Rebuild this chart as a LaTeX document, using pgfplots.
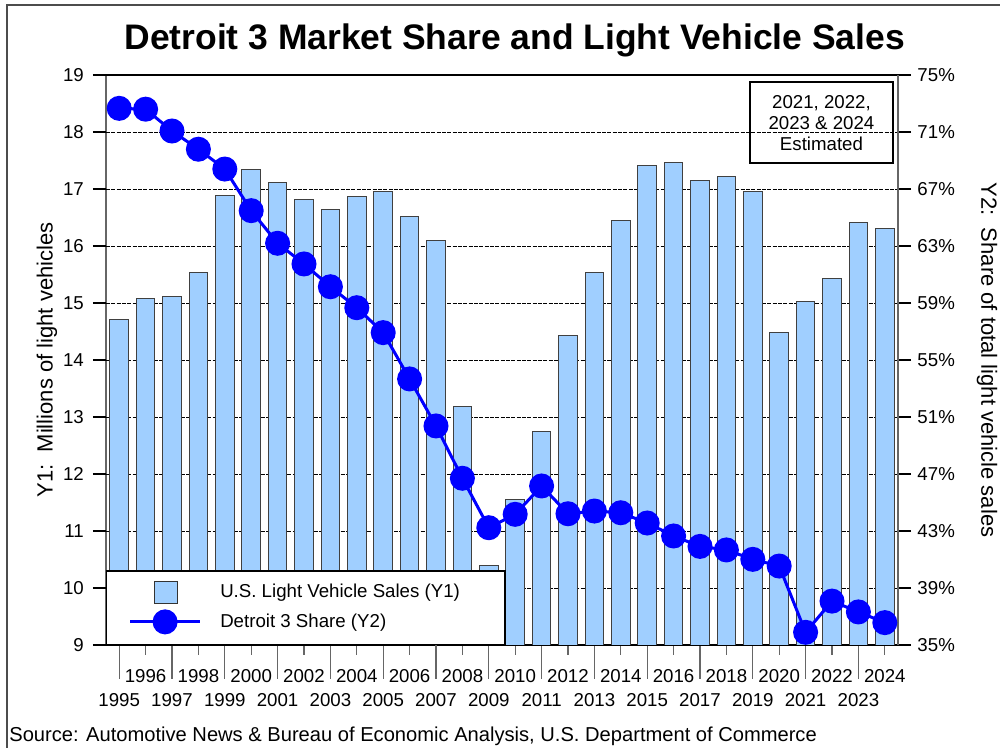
\documentclass[border=0pt]{standalone}
\usepackage{fontspec}
\setmainfont{Liberation Sans}
\usepackage{pgfplots}
\pgfplotsset{compat=1.18}
\definecolor{barblue}{RGB}{160,207,255}
\begin{document}
\fontsize{14}{16}\selectfont
\begin{tikzpicture}[font=\fontsize{14}{16}\selectfont]
\useasboundingbox (0,0) rectangle (750pt,561pt);
\draw[line width=1.5pt, black!70] (5.6pt,0) -- (5.6pt,557.25pt) -- (750pt,557.25pt);
\node[anchor=base, font=\fontsize{26.6}{30}\selectfont\bfseries] at (386pt,523.5pt) {Detroit 3 Market Share and Light Vehicle Sales};
\node[anchor=base west, inner sep=0pt, font=\fontsize{15.1}{17}\selectfont] at (6.8pt,4.9pt) {Source: Automotive News \& Bureau of Economic Analysis, U.S. Department of Commerce};
\begin{axis}[
  at={(79.5pt,77.25pt)}, anchor=south west, scale only axis,
  width=594pt, height=427.5pt,
  xmin=1994.5, xmax=2024.5, ymin=9, ymax=19,
  ytick=\empty,
  extra y ticks={9,10,...,19},
  extra y tick style={major tick length=9.75pt, grid=major, tick style={black, line width=0.8pt}, yticklabel style={xshift=-2pt}},
  xtick={1996,1998,...,2024},
  extra x ticks={1995,1997,...,2023},
  extra x tick style={major tick length=25.5pt, xticklabel style={yshift=0.5pt}},
  xticklabel style={/pgf/number format/1000 sep={}, yshift=-6.25pt},
  /pgf/number format/assume math mode=true,
  tick pos=left, tick align=outside,
  major tick length=7.5pt,
  x tick style={black!60, line width=0.8pt},
  separate axis lines,
  x axis line style={black, line width=0.9pt},
  y axis line style={black!60, line width=0.9pt},
  major grid style={black, line width=0.6pt, dash pattern=on 3pt off 1pt},
  ylabel={Y1:\ \ Millions of light vehicles},
  ylabel style={at={(axis description cs:-0.0745,0.5)}, anchor=center, font=\fontsize{16.5}{18}\selectfont},
]
\addplot[ybar, bar width=13.9pt, fill=barblue, draw=black!75, line width=0.7pt] coordinates {
(1995,14.71) (1996,15.08) (1997,15.12) (1998,15.53) (1999,16.88) (2000,17.35)
(2001,17.12) (2002,16.82) (2003,16.64) (2004,16.87) (2005,16.95) (2006,16.51)
(2007,16.10) (2008,13.18) (2009,10.39) (2010,11.56) (2011,12.74) (2012,14.43)
(2013,15.53) (2014,16.45) (2015,17.42) (2016,17.47) (2017,17.15) (2018,17.22)
(2019,16.96) (2020,14.48) (2021,15.03) (2022,15.43) (2023,16.42) (2024,16.31)
};
\end{axis}
\begin{axis}[
  at={(79.5pt,77.25pt)}, anchor=south west, scale only axis,
  width=594pt, height=427.5pt,
  xmin=1994.5, xmax=2024.5, ymin=35, ymax=75,
  axis x line=none, axis y line*=right,
  ytick={35,39,...,75},
  yticklabel={\pgfmathprintnumber{\tick}\%},
  /pgf/number format/assume math mode=true,
  tick align=outside, major tick length=9.75pt,
  y tick style={black, line width=0.8pt},
  y axis line style={black!60, line width=0.9pt},
  ylabel={Y2:\ \ Share of total light vehicle sales},
  ylabel style={at={(axis description cs:1.1124,0.5)}, anchor=center, rotate=180, font=\fontsize{16.5}{18}\selectfont},
  legend style={at={(0,0)}, anchor=south west, draw=black, line width=0.9pt, fill=white,
    inner xsep=16.5pt, inner ysep=7.5pt, row sep=4pt, column sep=12pt,
    font=\fontsize{14}{16}\selectfont},
  legend cell align=left,
]
\addlegendimage{legend image code/.code={
  \path[draw=none] (0,0) -- (52.5pt,0);
  \draw[fill=barblue, draw=black!80, line width=0.8pt] (18pt,-8.25pt) rectangle (35.25pt,8.25pt);}}
\addlegendentry{\makebox[195pt][l]{U.S. Light Vehicle Sales (Y1)}}
\addplot[blue, line width=2.25pt, mark=*, mark size=8.25pt, mark options={fill=blue, draw=blue},
  legend image code/.code={
  \draw[blue, line width=2.25pt] (0,0) -- (52.5pt,0);
  \fill[blue] (26.25pt,0) circle (8.25pt);}] coordinates {
(1995,72.66) (1996,72.60) (1997,71.07) (1998,69.79) (1999,68.40) (2000,65.48)
(2001,63.19) (2002,61.74) (2003,60.14) (2004,58.67) (2005,56.92) (2006,53.67)
(2007,50.37) (2008,46.70) (2009,43.23) (2010,44.17) (2011,46.16) (2012,44.21)
(2013,44.40) (2014,44.28) (2015,43.56) (2016,42.65) (2017,41.92) (2018,41.67)
(2019,41.01) (2020,40.54) (2021,35.89) (2022,38.08) (2023,37.32) (2024,36.57)
};
\addlegendentry{Detroit 3 Share (Y2)}
\end{axis}
\draw[black, line width=1.1pt] (562.5pt,499.5pt) rectangle (669.75pt,438.75pt);
\node[align=center, font=\fontsize{14}{15.75}\selectfont] at (616.1pt,469pt) {2021, 2022,\\2023 \& 2024\\Estimated};
\end{tikzpicture}
\end{document}
